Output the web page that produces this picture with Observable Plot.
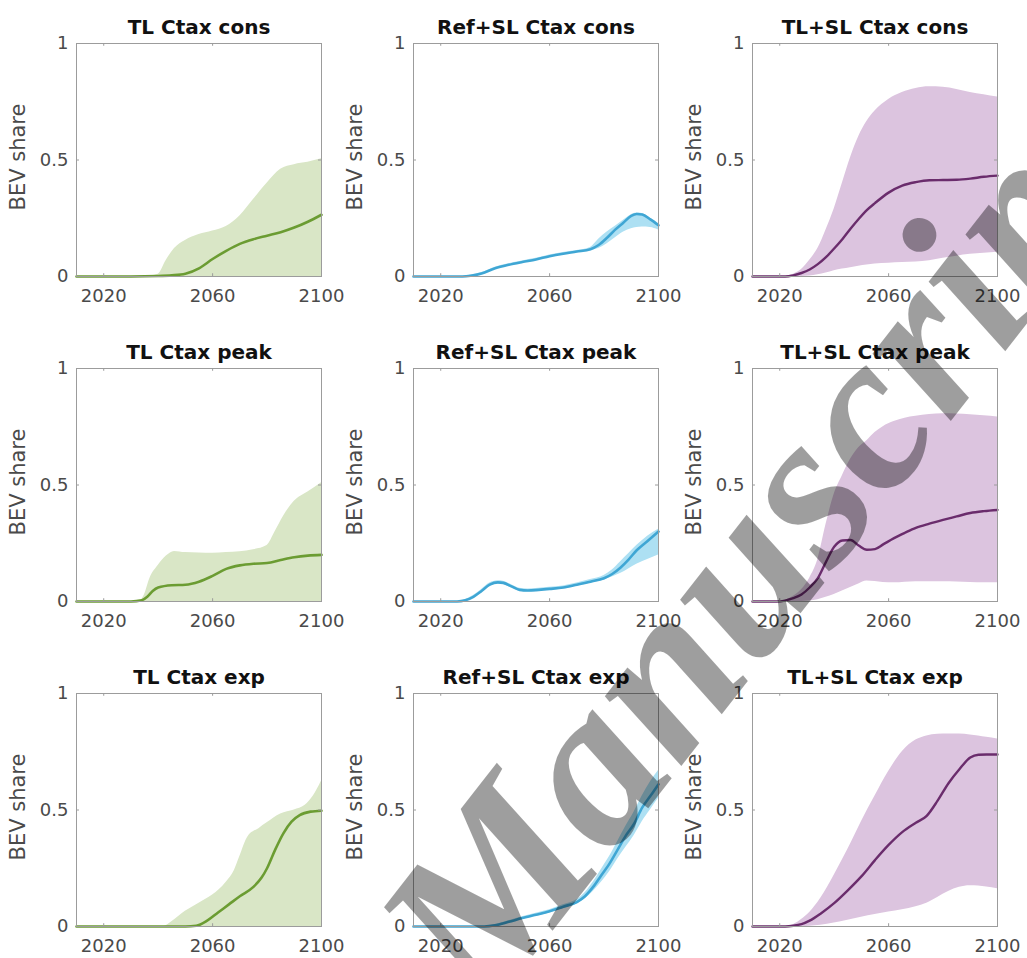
<!DOCTYPE html>
<html>
<head>
<meta charset="utf-8">
<script src="https://cdn.jsdelivr.net/npm/d3@7"></script>
<script src="https://cdn.jsdelivr.net/npm/@observablehq/plot@0.6"></script>
<style>
  html, body { margin: 0; padding: 0; background: #fff; overflow: hidden; }
  #wrap { position: relative; width: 1027px; height: 958px; overflow: hidden; }
  .panel { position: absolute; }
  #wm { position: absolute; left: 0; top: 0; pointer-events: none; }
</style>
</head>
<body>
<div id="wrap"></div>
<script>
// ---------- data ----------
const titles = [
  "TL Ctax cons", "Ref+SL Ctax cons", "TL+SL Ctax cons",
  "TL Ctax peak", "Ref+SL Ctax peak", "TL+SL Ctax peak",
  "TL Ctax exp", "Ref+SL Ctax exp", "TL+SL Ctax exp"
];
const xTicks = [2020, 2060, 2100];
const yTicks = [0, 0.5, 1];
const yLabel = "BEV share";

// median lines: [year, share]
const tlConsMid = [[2010,0],[2030,0],[2040,0.002],[2045,0.005],[2050,0.012],[2055,0.035],[2060,0.075],[2065,0.11],[2070,0.14],[2075,0.16],[2080,0.175],[2085,0.19],[2090,0.21],[2095,0.235],[2100,0.265]];
const tlPeakMid = [[2010,0],[2030,0],[2034,0.005],[2036,0.02],[2038,0.045],[2040,0.06],[2045,0.07],[2050,0.072],[2055,0.085],[2060,0.11],[2065,0.14],[2070,0.155],[2075,0.162],[2080,0.165],[2085,0.178],[2090,0.19],[2095,0.197],[2100,0.2]];
const tlExpMid = [[2010,0],[2050,0],[2054,0.003],[2058,0.025],[2062,0.06],[2066,0.095],[2070,0.13],[2075,0.17],[2078,0.21],[2080,0.25],[2083,0.33],[2086,0.4],[2089,0.45],[2092,0.478],[2096,0.493],[2100,0.497]];
const refConsMid = [[2010,0],[2028,0],[2031,0.003],[2035,0.013],[2040,0.035],[2045,0.05],[2050,0.062],[2055,0.073],[2060,0.087],[2065,0.098],[2070,0.107],[2075,0.117],[2078,0.135],[2081,0.165],[2084,0.2],[2087,0.23],[2090,0.26],[2092,0.268],[2094,0.266],[2097,0.245],[2100,0.22]];
const refPeakMid = [[2010,0],[2026,0],[2029,0.005],[2032,0.02],[2035,0.045],[2038,0.072],[2041,0.082],[2043,0.08],[2046,0.065],[2049,0.05],[2052,0.047],[2056,0.05],[2060,0.054],[2065,0.06],[2070,0.072],[2075,0.085],[2080,0.1],[2083,0.118],[2086,0.145],[2089,0.18],[2092,0.22],[2096,0.26],[2100,0.3]];
const refExpMid = [[2010,0],[2036,0],[2040,0.005],[2045,0.02],[2050,0.036],[2055,0.05],[2060,0.065],[2065,0.085],[2070,0.105],[2073,0.13],[2076,0.17],[2079,0.22],[2082,0.27],[2085,0.33],[2088,0.39],[2091,0.44],[2094,0.51],[2097,0.56],[2100,0.61]];
const tlslConsMid = [[2010,0],[2022,0],[2025,0.005],[2028,0.015],[2031,0.03],[2034,0.053],[2037,0.083],[2040,0.12],[2043,0.16],[2046,0.205],[2049,0.247],[2052,0.285],[2055,0.315],[2060,0.36],[2065,0.39],[2070,0.405],[2075,0.413],[2080,0.414],[2085,0.415],[2090,0.42],[2095,0.428],[2100,0.433]];
const tlslPeakMid = [[2010,0],[2019,0],[2022,0.004],[2025,0.014],[2028,0.03],[2031,0.06],[2034,0.1],[2037,0.17],[2040,0.235],[2043,0.262],[2046,0.264],[2049,0.24],[2052,0.222],[2055,0.225],[2058,0.245],[2062,0.272],[2066,0.295],[2070,0.316],[2075,0.334],[2080,0.35],[2085,0.365],[2090,0.38],[2095,0.388],[2100,0.393]];
const tlslExpMid = [[2010,0],[2022,0],[2025,0.003],[2028,0.01],[2031,0.025],[2035,0.055],[2040,0.1],[2045,0.155],[2050,0.215],[2055,0.285],[2060,0.35],[2065,0.405],[2070,0.445],[2074,0.475],[2078,0.54],[2082,0.615],[2086,0.675],[2090,0.725],[2093,0.737],[2096,0.738],[2100,0.738]];

// uncertainty bands: [year, low, high]
const tlConsBand = [[2010,0,0],[2035,0,0],[2040,0,0.01],[2043,0,0.07],[2046,0,0.12],[2050,0,0.155],[2055,0,0.18],[2060,0,0.195],[2065,0,0.215],[2070,0,0.26],[2075,0,0.33],[2080,0,0.40],[2085,0,0.46],[2090,0,0.48],[2095,0,0.49],[2100,0,0.505]];
const tlPeakBand = [[2010,0,0],[2033,0,0],[2035,0,0.03],[2037,0,0.1],[2040,0,0.155],[2043,0,0.195],[2046,0,0.215],[2050,0,0.21],[2055,0,0.208],[2060,0,0.207],[2065,0,0.21],[2070,0,0.214],[2075,0,0.222],[2080,0,0.24],[2083,0,0.3],[2086,0,0.365],[2090,0,0.43],[2095,0,0.47],[2100,0,0.51]];
const tlExpBand = [[2010,0,0],[2042,0,0],[2045,0,0.02],[2050,0,0.065],[2055,0,0.1],[2060,0,0.135],[2065,0,0.19],[2068,0,0.24],[2070,0,0.3],[2073,0,0.385],[2077,0,0.42],[2080,0,0.445],[2085,0,0.483],[2090,0,0.5],[2094,0,0.52],[2097,0,0.56],[2100,0,0.625]];
const refConsBand = [[2010,0,0],[2028,0,0],[2031,0,0.006],[2035,0.009,0.017],[2040,0.03,0.04],[2045,0.045,0.055],[2050,0.057,0.067],[2055,0.069,0.078],[2060,0.082,0.092],[2065,0.093,0.103],[2070,0.102,0.112],[2075,0.11,0.125],[2078,0.12,0.16],[2081,0.14,0.19],[2084,0.165,0.215],[2087,0.19,0.24],[2090,0.205,0.265],[2092,0.21,0.272],[2094,0.212,0.27],[2097,0.21,0.25],[2100,0.2,0.228]];
const refPeakBand = [[2010,0,0],[2026,0,0],[2029,0.002,0.008],[2032,0.014,0.026],[2035,0.038,0.052],[2038,0.064,0.079],[2041,0.075,0.089],[2043,0.073,0.087],[2046,0.058,0.072],[2049,0.044,0.057],[2052,0.041,0.054],[2056,0.044,0.057],[2060,0.048,0.061],[2065,0.054,0.067],[2070,0.066,0.079],[2075,0.078,0.094],[2080,0.092,0.112],[2083,0.105,0.135],[2086,0.12,0.17],[2089,0.14,0.205],[2092,0.16,0.24],[2096,0.18,0.28],[2100,0.2,0.31]];
const refExpBand = [[2010,0,0],[2036,0,0],[2040,0.002,0.009],[2045,0.015,0.025],[2050,0.03,0.042],[2055,0.044,0.057],[2060,0.058,0.072],[2065,0.077,0.093],[2070,0.097,0.115],[2073,0.118,0.145],[2076,0.15,0.19],[2079,0.19,0.245],[2082,0.235,0.3],[2085,0.29,0.365],[2088,0.34,0.43],[2091,0.39,0.49],[2094,0.45,0.56],[2097,0.5,0.62],[2100,0.55,0.67]];
const tlslConsBand = [[2010,0,0],[2022,0,0],[2025,0,0.01],[2028,0,0.03],[2031,0.002,0.07],[2034,0.007,0.12],[2037,0.015,0.2],[2040,0.025,0.29],[2043,0.032,0.4],[2046,0.038,0.51],[2049,0.044,0.6],[2052,0.049,0.665],[2055,0.054,0.71],[2060,0.057,0.76],[2065,0.06,0.79],[2070,0.062,0.807],[2075,0.068,0.814],[2080,0.078,0.812],[2085,0.087,0.803],[2090,0.095,0.79],[2095,0.1,0.78],[2100,0.104,0.77]];
const tlslPeakBand = [[2010,0,0],[2019,0,0],[2022,0,0.005],[2025,0,0.022],[2028,0,0.05],[2031,0.002,0.1],[2034,0.008,0.18],[2037,0.018,0.33],[2040,0.03,0.46],[2043,0.045,0.54],[2046,0.06,0.61],[2049,0.075,0.66],[2052,0.088,0.69],[2055,0.086,0.725],[2058,0.082,0.75],[2062,0.08,0.772],[2066,0.083,0.787],[2070,0.085,0.795],[2075,0.085,0.803],[2080,0.085,0.806],[2085,0.084,0.805],[2090,0.082,0.802],[2095,0.081,0.797],[2100,0.08,0.792]];
const tlslExpBand = [[2010,0,0],[2022,0,0],[2025,0,0.008],[2028,0,0.03],[2031,0.001,0.06],[2035,0.005,0.12],[2040,0.015,0.22],[2045,0.027,0.33],[2050,0.04,0.45],[2055,0.052,0.56],[2060,0.062,0.665],[2065,0.072,0.75],[2070,0.085,0.8],[2074,0.1,0.818],[2078,0.125,0.825],[2082,0.15,0.826],[2086,0.168,0.826],[2090,0.175,0.822],[2093,0.174,0.818],[2096,0.17,0.812],[2100,0.162,0.805]];

const mids = [tlConsMid, refConsMid, tlslConsMid, tlPeakMid, refPeakMid, tlslPeakMid, tlExpMid, refExpMid, tlslExpMid];
const bands = [tlConsBand, refConsBand, tlslConsBand, tlPeakBand, refPeakBand, tlslPeakBand, tlExpBand, refExpBand, tlslExpBand];

// ---------- styles ----------
const lineColors = ["#6b9c32", "#3fa6d4", "#6a2c6c"];
const bandColors = ["#d9e6c6", "#ade0f3", "#dcc4df"];
const lineWidths = [2.6, 2.6, 2.4];
const colLeft = [0, 337, 676];
const rowTop = [0, 325, 650];

const wrap = document.getElementById("wrap");

titles.forEach((title, i) => {
  const col = i % 3, row = Math.floor(i / 3);
  const band = bands[i].map(([year, lo, hi]) => ({year, lo, hi}));
  const mid = mids[i].map(([year, v]) => ({year, v}));
  const chart = Plot.plot({
    width: 338,
    height: 325,
    marginLeft: 76,
    marginRight: 17,
    marginTop: 43,
    marginBottom: 49,
    style: {fontFamily: "DejaVu Sans", fontSize: "18px", color: "#4a4a4a", background: "transparent", overflow: "visible"},
    x: {domain: [2010, 2100], ticks: xTicks, tickFormat: d => String(d), tickSize: 0, tickPadding: 13, label: null},
    y: {domain: [0, 1], ticks: yTicks, tickFormat: d => String(d), tickSize: 0, tickPadding: 8, label: null},
    marks: [
      Plot.areaY(band, {x: "year", y1: "lo", y2: "hi", fill: bandColors[col], curve: "monotone-x"}),
      Plot.line(mid, {x: "year", y: "v", stroke: lineColors[col], strokeWidth: lineWidths[col], curve: "monotone-x"}),
      Plot.frame({stroke: "#9c9c9c", strokeWidth: 1}),
      Plot.ruleX(xTicks, {y1: 0, y2: 0.012, stroke: "#9c9c9c"}),
      Plot.ruleX(xTicks, {y1: 0.988, y2: 1, stroke: "#9c9c9c"}),
      Plot.ruleY(yTicks, {x1: 2010, x2: 2011.1, stroke: "#9c9c9c"}),
      Plot.ruleY(yTicks, {x1: 2098.9, x2: 2100, stroke: "#9c9c9c"}),
      Plot.text([title], {frameAnchor: "top", lineAnchor: "middle", dy: -16, fontWeight: "bold", fontSize: 20, fill: "#111"}),
      Plot.text([yLabel], {frameAnchor: "left", textAnchor: "middle", lineAnchor: "middle", dx: -58, dy: -3, rotate: -90, fontSize: 21, fill: "#4a4a4a"})
    ]
  });
  const div = document.createElement("div");
  div.className = "panel";
  div.style.left = colLeft[col] + "px";
  div.style.top = rowTop[row] + "px";
  div.appendChild(chart);
  wrap.appendChild(div);
});

// ---------- watermark overlay ----------
const wmText = "Manuscript";
const ns = "http://www.w3.org/2000/svg";
const svg = document.createElementNS(ns, "svg");
svg.setAttribute("id", "wm");
svg.setAttribute("width", 1027);
svg.setAttribute("height", 958);
const t = document.createElementNS(ns, "text");
t.setAttribute("x", 486);
t.setAttribute("y", 1016);
t.setAttribute("transform", "rotate(-52 486 1016)");
t.setAttribute("font-family", "Liberation Serif");
t.setAttribute("font-style", "italic");
t.setAttribute("font-weight", "bold");
t.setAttribute("font-size", 225);
t.setAttribute("fill", "rgba(0,0,0,0.38)");
t.textContent = wmText;
svg.appendChild(t);
wrap.appendChild(svg);
</script>
</body>
</html>
